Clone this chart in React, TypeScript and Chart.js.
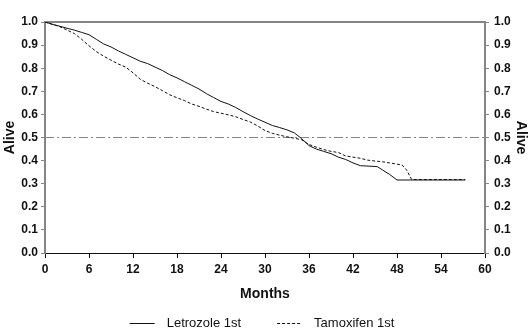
import { useEffect, useRef } from "react";
import { Chart, registerables } from "chart.js";

Chart.register(...registerables);

const letrozoleMonths = [0, 1, 2, 3, 4, 5, 6, 7, 8, 9, 10, 11, 12, 13, 14, 15, 16, 17, 18, 19, 20, 21, 22, 23, 24, 25, 26, 27, 28, 29, 30, 31, 32, 33, 34, 35, 36, 37, 38, 39, 40, 41, 42, 43, 45.3, 46, 47, 48, 57.3];
const letrozoleAlive = [1.0, 0.99, 0.982, 0.973, 0.965, 0.955, 0.945, 0.925, 0.905, 0.892, 0.875, 0.86, 0.845, 0.83, 0.82, 0.805, 0.79, 0.772, 0.758, 0.742, 0.726, 0.71, 0.69, 0.673, 0.656, 0.645, 0.63, 0.612, 0.595, 0.58, 0.566, 0.552, 0.543, 0.533, 0.52, 0.495, 0.465, 0.45, 0.44, 0.43, 0.415, 0.405, 0.39, 0.378, 0.374, 0.36, 0.34, 0.316, 0.316];

const tamoxifenMonths = [0, 1, 2, 3, 4, 5, 6, 7, 8, 9, 10, 11, 12, 13, 14, 15, 16, 17, 18, 19, 20, 21, 22, 23, 24, 25, 26, 27, 28, 29, 30, 31, 32, 33, 34, 35, 36, 37, 38, 39, 40, 41, 42, 43, 44, 45, 46, 47, 48.7, 49.3, 50, 57.3];
const tamoxifenAlive = [1.0, 0.99, 0.98, 0.965, 0.95, 0.925, 0.897, 0.872, 0.852, 0.835, 0.818, 0.805, 0.78, 0.752, 0.735, 0.72, 0.703, 0.685, 0.672, 0.66, 0.645, 0.635, 0.623, 0.612, 0.605, 0.598, 0.59, 0.578, 0.567, 0.55, 0.53, 0.518, 0.51, 0.503, 0.497, 0.49, 0.47, 0.458, 0.448, 0.44, 0.435, 0.42, 0.415, 0.41, 0.402, 0.398, 0.395, 0.39, 0.381, 0.36, 0.318, 0.318];

const medianMonths = [0, 60];
const medianAlive = [0.5, 0.5];

const seriesLabels = ["Letrozole 1st", "Tamoxifen 1st"];
const xTickValues = [0, 6, 12, 18, 24, 30, 36, 42, 48, 54, 60];
const xTickLabels = ["0", "6", "12", "18", "24", "30", "36", "42", "48", "54", "60"];
const yTickValues = [0, 0.1, 0.2, 0.3, 0.4, 0.5, 0.6, 0.7, 0.8, 0.9, 1.0];
const yTickLabels = ["0.0", "0.1", "0.2", "0.3", "0.4", "0.5", "0.6", "0.7", "0.8", "0.9", "1.0"];
const xTitle = "Months";
const yTitle = "Alive";

const FONT = "'Liberation Sans', Arial, sans-serif";
const GRAY = "#858585";

const toPoints = (xs: number[], ys: number[]) => xs.map((x, i) => ({ x, y: ys[i] }));

const legendPlugin = {
  id: "bottomLegend",
  afterDraw(chart: any) {
    const ctx = chart.ctx as CanvasRenderingContext2D;
    const ds = chart.data.datasets.slice(0, 2);
    const sample = 25;
    const gap = 12;
    const itemGap = 36;
    ctx.save();
    ctx.font = `13px ${FONT}`;
    const widths = ds.map((d: any) => ctx.measureText(d.label).width);
    const total = ds.length * (sample + gap) + widths.reduce((a: number, b: number) => a + b, 0) + itemGap * (ds.length - 1);
    const center = (chart.chartArea.left + chart.chartArea.right) / 2 - 3;
    let x = center - total / 2;
    const y = 323;
    ds.forEach((d: any, i: number) => {
      ctx.beginPath();
      ctx.setLineDash(d.borderDash || []);
      ctx.strokeStyle = d.borderColor;
      ctx.lineWidth = 1;
      ctx.moveTo(x, y + 0.5);
      ctx.lineTo(x + sample, y + 0.5);
      ctx.stroke();
      ctx.setLineDash([]);
      x += sample + gap;
      ctx.fillStyle = "#111";
      ctx.textBaseline = "middle";
      ctx.textAlign = "left";
      ctx.fillText(d.label, x, y);
      x += widths[i] + itemGap;
    });
    ctx.restore();
  },
};

export default function App() {
  const ref = useRef<HTMLCanvasElement | null>(null);

  useEffect(() => {
    if (!ref.current) return;
    const tickFont = { family: FONT, size: 12, weight: "bold" as const };
    const titleFont = { family: FONT, size: 14, weight: "bold" as const };
    const chart = new Chart(ref.current, {
      type: "line",
      data: {
        datasets: [
          {
            label: seriesLabels[0],
            data: toPoints(letrozoleMonths, letrozoleAlive),
            borderColor: "#111",
            borderWidth: 1,
            pointRadius: 0,
            tension: 0,
            fill: false,
          },
          {
            label: seriesLabels[1],
            data: toPoints(tamoxifenMonths, tamoxifenAlive),
            borderColor: "#111",
            borderWidth: 1,
            borderDash: [3, 2],
            pointRadius: 0,
            tension: 0,
            fill: false,
          },
          {
            label: "median",
            data: toPoints(medianMonths, medianAlive),
            borderColor: GRAY,
            borderWidth: 1,
            borderDash: [9, 3, 2, 3],
            pointRadius: 0,
            fill: false,
          },
        ],
      },
      options: {
        animation: false,
        responsive: false,
        devicePixelRatio: 1,
        layout: { padding: { top: 22, bottom: 0, left: 0, right: 0 } },
        plugins: { legend: { display: false }, tooltip: { enabled: false } },
        scales: {
          x: {
            type: "linear",
            position: "bottom",
            min: 0,
            max: 60,
            afterBuildTicks: (s: any) => {
              s.ticks = xTickValues.map((v) => ({ value: v }));
            },
            afterFit: (s: any) => {
              s.height = 83;
            },
            ticks: {
              color: "#111",
              font: tickFont,
              padding: 4,
              maxRotation: 0,
              autoSkip: false,
              callback: (v: any) => xTickLabels[xTickValues.indexOf(Number(v))] ?? "",
            },
            grid: { display: true, drawOnChartArea: false, drawTicks: true, tickLength: 5, color: "#111" },
            border: { display: true, color: "#111", width: 1 },
            title: { display: true, text: xTitle, color: "#111", font: titleFont, padding: { top: 0, bottom: 33 } },
          },
          xTop: {
            type: "linear",
            position: "top",
            min: 0,
            max: 60,
            afterFit: (s: any) => {
              s.height = 0;
            },
            ticks: { display: false },
            grid: { display: false },
            border: { display: true, color: GRAY, width: 2 },
          },
          y: {
            type: "linear",
            position: "left",
            min: 0,
            max: 1,
            afterBuildTicks: (s: any) => {
              s.ticks = yTickValues.map((v) => ({ value: v }));
            },
            afterFit: (s: any) => {
              s.width = 45;
            },
            ticks: {
              color: "#111",
              font: tickFont,
              padding: 3,
              autoSkip: false,
              callback: (v: any, i: number) => yTickLabels[i] ?? "",
            },
            grid: { display: true, drawOnChartArea: false, drawTicks: true, tickLength: 4, color: GRAY },
            border: { display: true, color: GRAY, width: 2 },
            title: { display: true, text: yTitle, color: "#111", font: titleFont, padding: { top: 2, bottom: 0 } },
          },
          y2: {
            type: "linear",
            position: "right",
            min: 0,
            max: 1,
            afterBuildTicks: (s: any) => {
              s.ticks = yTickValues.map((v) => ({ value: v }));
            },
            afterFit: (s: any) => {
              s.width = 46;
            },
            ticks: {
              color: "#111",
              font: tickFont,
              padding: 5,
              autoSkip: false,
              callback: (v: any, i: number) => yTickLabels[i] ?? "",
            },
            grid: { display: true, drawOnChartArea: false, drawTicks: true, tickLength: 4, color: GRAY },
            border: { display: true, color: GRAY, width: 2 },
            title: { display: true, text: yTitle, color: "#111", font: titleFont, padding: { top: 2, bottom: 0 } },
          },
        },
      },
      plugins: [legendPlugin],
    });
    return () => chart.destroy();
  }, []);

  return (
    <div style={{ position: "absolute", left: 0, top: 0, width: 531, height: 336, background: "#fff" }}>
      <canvas ref={ref} width={531} height={336} style={{ display: "block", width: 531, height: 336 }} />
    </div>
  );
}
